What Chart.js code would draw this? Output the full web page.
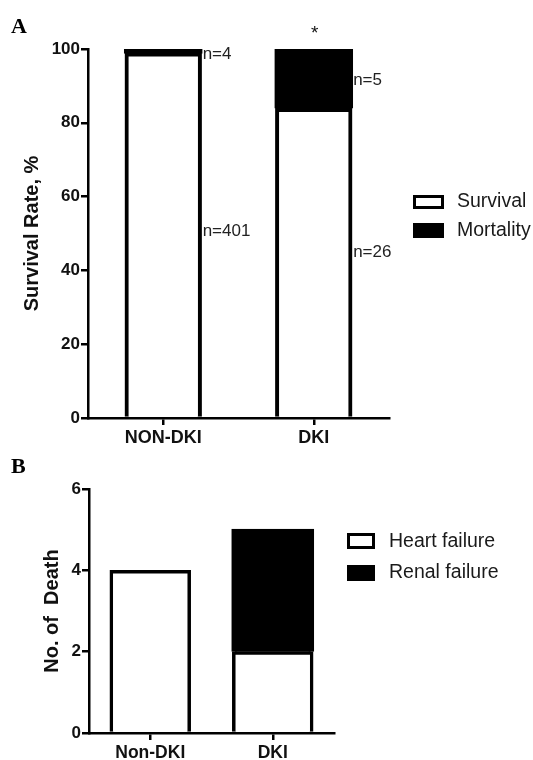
<!DOCTYPE html>
<html><head><meta charset="utf-8">
<script src="https://cdn.jsdelivr.net/npm/chart.js@4.4.0/dist/chart.umd.min.js"></script>
<style>
html,body{margin:0;padding:0;background:#fff;}
#wrap{position:relative;width:533px;height:760px;overflow:hidden;background:#fff;}
canvas{position:absolute;left:0;}
#cA{top:0;}
#cB{top:450px;}
</style></head><body>
<div id="wrap"><canvas id="cA" width="533" height="450"></canvas><canvas id="cB" width="533" height="310"></canvas></div>
<script>
// ---- Panel A data ----
const categoriesA = ['NON-DKI', 'DKI'];
const survivalPct = [99.0, 83.9];
const mortalityPct = [1.0, 16.1];
const survivalN = ['n=401', 'n=26'];
const mortalityN = ['n=4', 'n=5'];
const significanceA = ['', '*'];
const yTicksA = [0, 20, 40, 60, 80, 100];

// ---- Panel B data ----
const categoriesB = ['Non-DKI', 'DKI'];
const heartFailure = [4, 2];
const renalFailure = [0, 3];
const yTicksB = [0, 2, 4, 6];

const SANS = "'Liberation Sans', Arial, Helvetica, sans-serif";
const SERIF = "'Liberation Serif', 'Times New Roman', serif";
const INK = '#111';

const panelLetter = {
  id: 'panelLetter',
  afterDraw(chart, args, o) {
    const ctx = chart.ctx;
    ctx.save();
    ctx.fillStyle = '#000';
    ctx.font = o.font;
    ctx.textAlign = 'left';
    ctx.textBaseline = 'alphabetic';
    ctx.fillText(o.text, o.x, o.y);
    ctx.restore();
  }
};

const boxLegend = {
  id: 'boxLegend',
  afterDraw(chart, args, o) {
    const ctx = chart.ctx;
    ctx.save();
    chart.data.datasets.forEach((ds, i) => {
      const b = o.boxes[i];
      ctx.fillStyle = '#000';
      ctx.fillRect(b[0], b[1], b[2], b[3]);
      if (ds.backgroundColor !== '#000') {
        ctx.fillStyle = ds.backgroundColor;
        ctx.fillRect(b[0] + o.bw, b[1] + o.bw, b[2] - 2 * o.bw, b[3] - 2 * o.bw);
      }
      ctx.fillStyle = '#1a1a1a';
      ctx.font = o.font;
      ctx.textAlign = 'left';
      ctx.textBaseline = 'middle';
      ctx.fillText(ds.label, o.textX, o.textY[i]);
    });
    ctx.restore();
  }
};

const nLabels = {
  id: 'nLabels',
  afterDatasetsDraw(chart, args, o) {
    const ctx = chart.ctx;
    const ys = chart.scales.y;
    ctx.save();
    ctx.fillStyle = '#222';
    ctx.font = o.font;
    ctx.textAlign = 'left';
    ctx.textBaseline = 'middle';
    chart.data.datasets.forEach((ds, i) => {
      const meta = chart.getDatasetMeta(i);
      meta.data.forEach((bar, j) => {
        const txt = o.texts[i][j];
        if (!txt) return;
        const x = bar.x + bar.width / 2 + 1;
        ctx.fillText(txt, x, ys.getPixelForValue(o.at[i][j]));
      });
    });
    // significance marks above the stacked bars
    const top = chart.getDatasetMeta(chart.data.datasets.length - 1);
    ctx.font = o.starFont;
    ctx.textAlign = 'center';
    ctx.textBaseline = 'alphabetic';
    ctx.fillStyle = '#111';
    top.data.forEach((bar, j) => {
      const s = o.marks[j];
      if (s) ctx.fillText(s, bar.x + 1, bar.y - o.starGap);
    });
    ctx.restore();
  }
};

function yScale(ticksArr, max, width, title, titlePad) {
  return {
    type: 'linear', stacked: true, min: 0, max: max, z: 1,
    afterBuildTicks: s => { s.ticks = ticksArr.map(v => ({ value: v })); },
    afterFit: s => { s.width = width; },
    border: { display: true, color: '#000', width: 2.5 },
    grid: { display: true, drawOnChartArea: false, drawTicks: true, tickLength: 7, color: '#000', lineWidth: 2.5 },
    ticks: { color: INK, padding: 1, font: { family: SANS, size: 17, weight: 'bold' } },
    title: { display: true, text: title, color: INK, padding: { top: titlePad, bottom: 0 },
             font: { family: SANS, size: 20, weight: 'bold', lineHeight: 1.2 } }
  };
}
function xScale(height, fontSize, pad) {
  return {
    type: 'category', stacked: true, offset: true, z: 1,
    afterFit: s => { s.height = height; },
    border: { display: true, color: '#000', width: 2.5 },
    grid: { display: true, offset: false, drawOnChartArea: false, drawTicks: true, tickLength: 7, color: '#000', lineWidth: 2.5 },
    ticks: { color: INK, padding: pad, maxRotation: 0, autoSkip: false, font: { family: SANS, size: fontSize, weight: 'bold' } }
  };
}

// ---- Chart A ----
new Chart(document.getElementById('cA'), {
  type: 'bar',
  data: {
    labels: categoriesA,
    datasets: [
      { label: 'Survival', data: survivalPct, backgroundColor: '#fff', borderColor: '#000', borderWidth: 4,
        barPercentage: 0.51, categoryPercentage: 1, inflateAmount: 0.3 },
      { label: 'Mortality', data: mortalityPct, backgroundColor: '#000', borderColor: '#000', borderWidth: 4,
        barPercentage: 0.51, categoryPercentage: 1, inflateAmount: 1 }
    ]
  },
  plugins: [panelLetter, boxLegend, nLabels],
  options: {
    responsive: false, animation: false, devicePixelRatio: 1,
    layout: { padding: { left: 0, top: 49, right: 144, bottom: 4 } },
    scales: { x: xScale(28, 18, 2), y: yScale(yTicksA, 100, 88, 'Survival Rate, %', 20) },
    plugins: {
      legend: { display: false }, tooltip: { enabled: false },
      panelLetter: { text: 'A', x: 11, y: 33, font: 'bold 22px ' + SERIF },
      boxLegend: { boxes: [[413, 195, 31, 14], [413, 223, 31, 15]], bw: 3, textX: 457, textY: [202, 231],
                   font: '19.5px ' + SANS },
      nLabels: { texts: [survivalN, mortalityN], at: [[50.5, 45], [98.5, 91.5]], font: '17px ' + SANS,
                 marks: significanceA, starFont: '19px ' + SANS, starGap: 10 }
    }
  }
});

// ---- Chart B ----
new Chart(document.getElementById('cB'), {
  type: 'bar',
  data: {
    labels: categoriesB,
    datasets: [
      { label: 'Heart failure', data: heartFailure, backgroundColor: '#fff', borderColor: '#000', borderWidth: 3.5,
        barPercentage: 0.66, categoryPercentage: 1, inflateAmount: 0.3 },
      { label: 'Renal failure', data: renalFailure, backgroundColor: '#000', borderColor: '#000', borderWidth: 3.5,
        barPercentage: 0.66, categoryPercentage: 1, inflateAmount: 1 }
    ]
  },
  plugins: [panelLetter, boxLegend],
  options: {
    responsive: false, animation: false, devicePixelRatio: 1,
    layout: { padding: { left: 0, top: 39, right: 199, bottom: 2 } },
    scales: { x: xScale(25, 17.5, 3), y: yScale(yTicksB, 6, 89, 'No. of  Death', 40) },
    plugins: {
      legend: { display: false }, tooltip: { enabled: false },
      panelLetter: { text: 'B', x: 11, y: 23, font: 'bold 22px ' + SERIF },
      boxLegend: { boxes: [[347, 83, 28, 16], [347, 115, 28, 16]], bw: 3, textX: 389, textY: [92, 123],
                   font: '19.5px ' + SANS }
    }
  }
});
</script>
</body></html>
